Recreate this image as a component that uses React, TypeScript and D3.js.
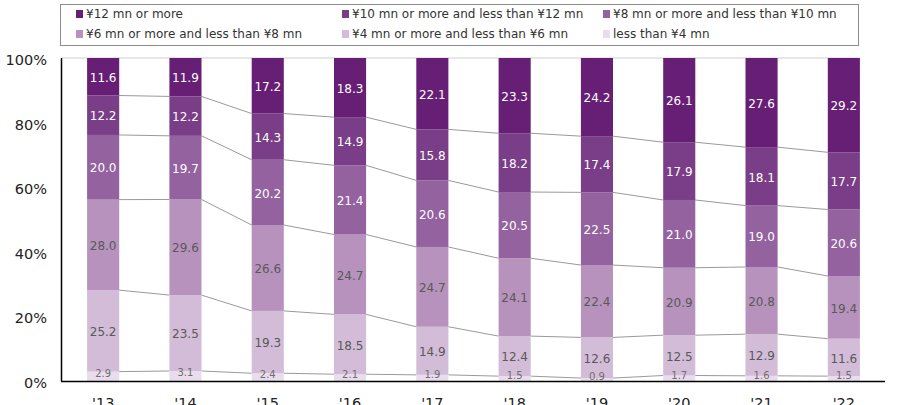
import React from "react";
import * as d3 from "d3";

const years = ["'13", "'14", "'15", "'16", "'17", "'18", "'19", "'20", "'21", "'22"];
const seriesNames = [
  "less than ¥4 mn",
  "¥4 mn or more and less than ¥6 mn",
  "¥6 mn or more and less than ¥8 mn",
  "¥8 mn or more and less than ¥10 mn",
  "¥10 mn or more and less than ¥12 mn",
  "¥12 mn or more",
];
const lt4 = [2.9, 3.1, 2.4, 2.1, 1.9, 1.5, 0.9, 1.7, 1.6, 1.5];
const m4to6 = [25.2, 23.5, 19.3, 18.5, 14.9, 12.4, 12.6, 12.5, 12.9, 11.6];
const m6to8 = [28.0, 29.6, 26.6, 24.7, 24.7, 24.1, 22.4, 20.9, 20.8, 19.4];
const m8to10 = [20.0, 19.7, 20.2, 21.4, 20.6, 20.5, 22.5, 21.0, 19.0, 20.6];
const m10to12 = [12.2, 12.2, 14.3, 14.9, 15.8, 18.2, 17.4, 17.9, 18.1, 17.7];
const m12plus = [11.6, 11.9, 17.2, 18.3, 22.1, 23.3, 24.2, 26.1, 27.6, 29.2];
const seriesValues = [lt4, m4to6, m6to8, m8to10, m10to12, m12plus];
const colors = ["#e9dcec", "#d3bcd8", "#b792bd", "#93629f", "#7a3d87", "#671e75"];
const yTicks = [0, 0.2, 0.4, 0.6, 0.8, 1.0];

const FONT = "'DejaVu Sans', Verdana, sans-serif";

export default function App() {
  const keys = seriesNames.map((_, i) => "s" + i);
  const rows = years.map((y, j) => {
    const r: any = { year: y };
    keys.forEach((k, i) => (r[k] = seriesValues[i][j]));
    return r;
  });
  const stacked = d3.stack<any>().keys(keys).offset(d3.stackOffsetExpand)(rows);

  const x = d3.scaleBand<string>().domain(years).range([62, 885]).paddingInner(0.61).paddingOuter(0.305);
  const y = d3.scaleLinear().domain([0, 1]).range([381, 58]);
  const bw = x.bandwidth();

  // legend layout: order top series first
  const legendOrder = [5, 4, 3, 2, 1, 0];
  const legendCols = [76, 342, 603];
  const legendRows = [14, 34];

  return (
    <svg width={899} height={405} style={{ position: "absolute", left: 0, top: 0, background: "#fff" }} fontFamily={FONT}>
      {/* legend */}
      <rect x={60.5} y={4.5} width={798} height={41} fill="#fff" stroke="#8c8c8c" strokeWidth={1} />
      {legendOrder.map((si, idx) => {
        const cx = legendCols[idx % 3];
        const cy = legendRows[Math.floor(idx / 3)];
        return (
          <g key={si}>
            <rect x={cx} y={cy - 4} width={7} height={8} fill={colors[si]} />
            <text x={cx + 10} y={cy} dy="0.35em" fontSize={12} fill="#333">
              {seriesNames[si]}
            </text>
          </g>
        );
      })}

      {/* top border line */}
      <line x1={62} x2={860} y1={58} y2={58} stroke="#cfcfcf" strokeWidth={1.2} />

      {/* connectors */}
      {stacked.slice(0, 5).map((s, si) =>
        years.slice(0, -1).map((yr, j) => (
          <line
            key={si + "-" + j}
            x1={(x(yr) as number) + bw}
            x2={x(years[j + 1]) as number}
            y1={y(s[j][1])}
            y2={y(s[j + 1][1])}
            stroke="#7f7f7f"
            strokeWidth={0.8}
          />
        ))
      )}

      {/* bars */}
      {stacked.map((s, si) =>
        s.map((d, j) => (
          <rect
            key={si + "-" + j}
            x={x(years[j]) as number}
            y={y(d[1])}
            width={bw}
            height={y(d[0]) - y(d[1])}
            fill={colors[si]}
          />
        ))
      )}

      {/* labels */}
      {stacked.map((s, si) =>
        s.map((d, j) => {
          const cx = (x(years[j]) as number) + bw / 2;
          const cy = (y(d[0]) + y(d[1])) / 2;
          const small = si === 0;
          return (
            <text
              key={si + "-" + j}
              x={cx}
              y={small ? cy - 3 : cy + 1}
              dy="0.35em"
              textAnchor="middle"
              fontSize={small ? 10 : 12}
              fill={si >= 3 ? "#ffffff" : small ? "#6e6e6e" : "#595959"}
            >
              {seriesValues[si][j].toFixed(1)}
            </text>
          );
        })
      )}

      {/* axes */}
      <line x1={61.5} x2={61.5} y1={58} y2={381} stroke="#000" strokeWidth={1.5} />
      <line x1={61} x2={885} y1={381.5} y2={381.5} stroke="#000" strokeWidth={1.5} />
      {yTicks.map((t) => (
        <text key={t} x={47} y={y(t) + 2} dy="0.35em" textAnchor="end" fontSize={14.5} fill="#222">
          {d3.format(".0%")(t)}
        </text>
      ))}
      {years.map((yr) => (
        <text key={yr} x={(x(yr) as number) + bw / 2} y={408} textAnchor="middle" fontSize={14.5} fill="#222">
          {yr}
        </text>
      ))}
    </svg>
  );
}
